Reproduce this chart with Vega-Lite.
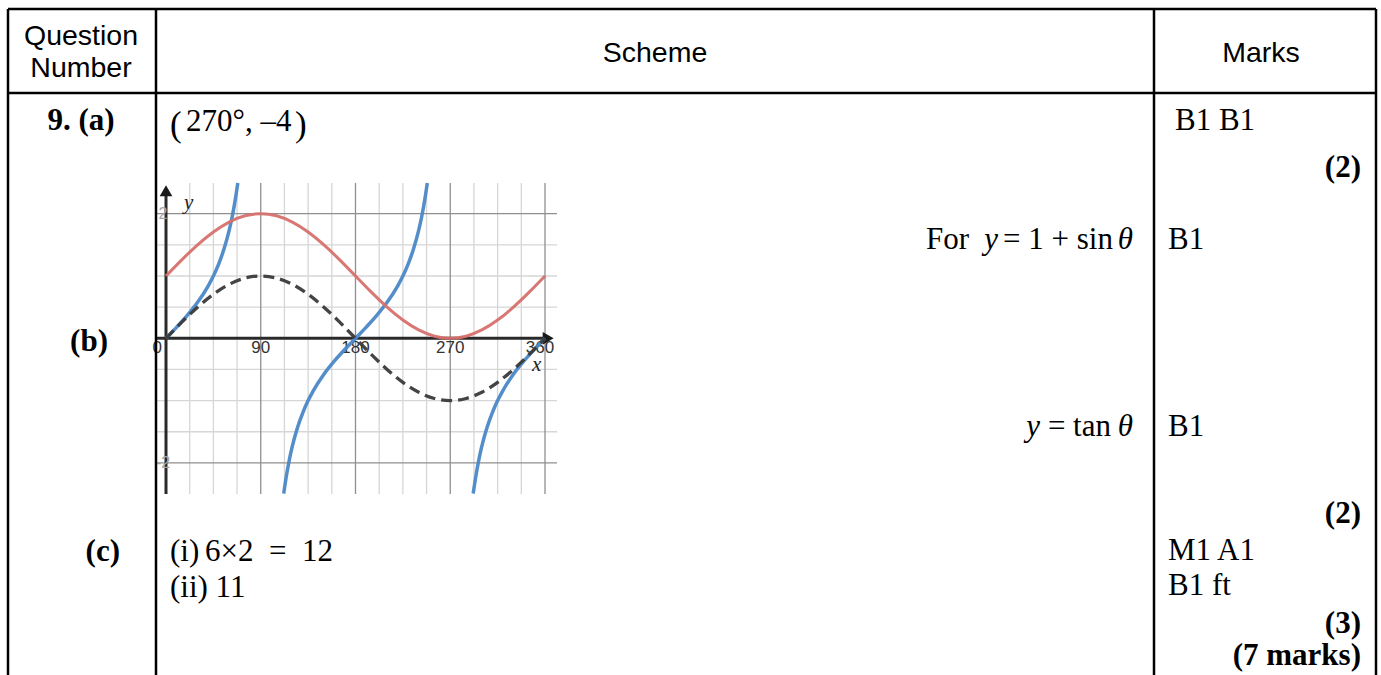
{
  "$schema": "https://vega.github.io/schema/vega-lite/v6.json",
  "width": 1381,
  "height": 675,
  "autosize": {"type": "none"},
  "padding": 0,
  "background": "white",
  "config": {"view": {"stroke": null}},
  "datasets": {
    "tlines": [
      {"x": 8, "x2": 1376, "y": 9, "y2": 9},
      {"x": 8, "x2": 1376, "y": 93, "y2": 93},
      {"x": 8, "x2": 8, "y": 9, "y2": 675},
      {"x": 156, "x2": 156, "y": 9, "y2": 675},
      {"x": 1154, "x2": 1154, "y": 9, "y2": 675},
      {"x": 1376, "x2": 1376, "y": 9, "y2": 675}
    ],
    "header": [
      {"t": "Question", "x": 81, "y": 45},
      {"t": "Number", "x": 81, "y": 77},
      {"t": "Scheme", "x": 655, "y": 62},
      {"t": "Marks", "x": 1261, "y": 62}
    ],
    "regLeft": [
      {"t": "270°, –4", "x": 186, "y": 131},
      {"t": "B1 B1", "x": 1175, "y": 130},
      {"t": "B1", "x": 1168, "y": 249},
      {"t": "B1", "x": 1168, "y": 436},
      {"t": "(i)", "x": 170, "y": 561},
      {"t": "6×2\u2002=\u200212", "x": 205, "y": 561},
      {"t": "(ii) 11", "x": 170, "y": 597},
      {"t": "M1 A1", "x": 1168, "y": 560},
      {"t": "B1 ft", "x": 1168, "y": 595}
    ],
    "parens": [
      {"t": "(", "x": 170, "y": 136},
      {"t": ")", "x": 295, "y": 136}
    ],
    "regRight": [
      {"t": "For", "x": 969, "y": 249},
      {"t": "= 1 + sin", "x": 1113, "y": 249},
      {"t": "= tan", "x": 1111, "y": 436}
    ],
    "itRight": [
      {"t": "y", "x": 998, "y": 249},
      {"t": "θ", "x": 1133, "y": 249},
      {"t": "y", "x": 1040, "y": 436},
      {"t": "θ", "x": 1133, "y": 436}
    ],
    "boldCenter": [
      {"t": "9. (a)", "x": 81, "y": 130}
    ],
    "boldRight": [
      {"t": "(b)", "x": 108, "y": 351},
      {"t": "(c)", "x": 120, "y": 561},
      {"t": "(2)", "x": 1361, "y": 177},
      {"t": "(2)", "x": 1361, "y": 523},
      {"t": "(3)", "x": 1361, "y": 633},
      {"t": "(7 marks)", "x": 1361, "y": 665}
    ],
    "vminor": [{"deg": 22.5}, {"deg": 45}, {"deg": 67.5}, {"deg": 112.5}, {"deg": 135}, {"deg": 157.5}, {"deg": 202.5}, {"deg": 225}, {"deg": 247.5}, {"deg": 292.5}, {"deg": 315}, {"deg": 337.5}],
    "vmajor": [{"deg": 90}, {"deg": 180}, {"deg": 270}, {"deg": 360}],
    "hminor": [{"v": -1.5}, {"v": -1}, {"v": -0.5}, {"v": 0.5}, {"v": 1}, {"v": 1.5}],
    "hmajor": [{"v": -2}, {"v": 2}],
    "xlabels": [{"label": "90", "deg": 90}, {"label": "180", "deg": 180}, {"label": "270", "deg": 270}],
    "ylabels": [{"label": "2", "v": 2}, {"label": "-2", "v": -2}],
    "onePlusSin": [
      {"deg": 0, "y": 1}, {"deg": 15, "y": 1.259}, {"deg": 30, "y": 1.5}, {"deg": 45, "y": 1.707}, {"deg": 60, "y": 1.866}, {"deg": 75, "y": 1.966}, {"deg": 90, "y": 2}, {"deg": 105, "y": 1.966}, {"deg": 120, "y": 1.866}, {"deg": 135, "y": 1.707}, {"deg": 150, "y": 1.5}, {"deg": 165, "y": 1.259}, {"deg": 180, "y": 1}, {"deg": 195, "y": 0.741}, {"deg": 210, "y": 0.5}, {"deg": 225, "y": 0.293}, {"deg": 240, "y": 0.134}, {"deg": 255, "y": 0.034}, {"deg": 270, "y": 0}, {"deg": 285, "y": 0.034}, {"deg": 300, "y": 0.134}, {"deg": 315, "y": 0.293}, {"deg": 330, "y": 0.5}, {"deg": 345, "y": 0.741}, {"deg": 360, "y": 1}
    ],
    "sin": [
      {"deg": 0, "y": 0}, {"deg": 15, "y": 0.259}, {"deg": 30, "y": 0.5}, {"deg": 45, "y": 0.707}, {"deg": 60, "y": 0.866}, {"deg": 75, "y": 0.966}, {"deg": 90, "y": 1}, {"deg": 105, "y": 0.966}, {"deg": 120, "y": 0.866}, {"deg": 135, "y": 0.707}, {"deg": 150, "y": 0.5}, {"deg": 165, "y": 0.259}, {"deg": 180, "y": 0}, {"deg": 195, "y": -0.259}, {"deg": 210, "y": -0.5}, {"deg": 225, "y": -0.707}, {"deg": 240, "y": -0.866}, {"deg": 255, "y": -0.966}, {"deg": 270, "y": -1}, {"deg": 285, "y": -0.966}, {"deg": 300, "y": -0.866}, {"deg": 315, "y": -0.707}, {"deg": 330, "y": -0.5}, {"deg": 345, "y": -0.259}, {"deg": 360, "y": 0}
    ],
    "tan": [
      {"b": 1, "deg": 0, "y": 0}, {"b": 1, "deg": 10, "y": 0.176}, {"b": 1, "deg": 20, "y": 0.364}, {"b": 1, "deg": 30, "y": 0.577}, {"b": 1, "deg": 40, "y": 0.839}, {"b": 1, "deg": 45, "y": 1}, {"b": 1, "deg": 50, "y": 1.192}, {"b": 1, "deg": 55, "y": 1.428}, {"b": 1, "deg": 60, "y": 1.732}, {"b": 1, "deg": 63, "y": 1.963}, {"b": 1, "deg": 66, "y": 2.246}, {"b": 1, "deg": 68.2, "y": 2.493},
      {"b": 2, "deg": 111.8, "y": -2.493}, {"b": 2, "deg": 114, "y": -2.246}, {"b": 2, "deg": 117, "y": -1.963}, {"b": 2, "deg": 120, "y": -1.732}, {"b": 2, "deg": 125, "y": -1.428}, {"b": 2, "deg": 130, "y": -1.192}, {"b": 2, "deg": 135, "y": -1}, {"b": 2, "deg": 140, "y": -0.839}, {"b": 2, "deg": 150, "y": -0.577}, {"b": 2, "deg": 160, "y": -0.364}, {"b": 2, "deg": 170, "y": -0.176}, {"b": 2, "deg": 180, "y": 0}, {"b": 2, "deg": 190, "y": 0.176}, {"b": 2, "deg": 200, "y": 0.364}, {"b": 2, "deg": 210, "y": 0.577}, {"b": 2, "deg": 220, "y": 0.839}, {"b": 2, "deg": 225, "y": 1}, {"b": 2, "deg": 230, "y": 1.192}, {"b": 2, "deg": 235, "y": 1.428}, {"b": 2, "deg": 240, "y": 1.732}, {"b": 2, "deg": 243, "y": 1.963}, {"b": 2, "deg": 246, "y": 2.246}, {"b": 2, "deg": 248.2, "y": 2.493},
      {"b": 3, "deg": 291.8, "y": -2.493}, {"b": 3, "deg": 294, "y": -2.246}, {"b": 3, "deg": 297, "y": -1.963}, {"b": 3, "deg": 300, "y": -1.732}, {"b": 3, "deg": 305, "y": -1.428}, {"b": 3, "deg": 310, "y": -1.192}, {"b": 3, "deg": 315, "y": -1}, {"b": 3, "deg": 320, "y": -0.839}, {"b": 3, "deg": 330, "y": -0.577}, {"b": 3, "deg": 340, "y": -0.364}, {"b": 3, "deg": 350, "y": -0.176}, {"b": 3, "deg": 360, "y": 0}
    ]
  },
  "resolve": {"scale": {"x": "independent", "y": "independent"}},
  "layer": [
    {
      "data": {"name": "vminor"},
      "mark": {"type": "rule", "stroke": "#d6d6d6", "strokeWidth": 1.3},
      "encoding": {
        "x": {"field": "deg", "type": "quantitative", "axis": null, "scale": {"domain": [-157.68, 1154.09], "nice": false, "zero": false}},
        "y": {"datum": -2.499, "type": "quantitative", "axis": null, "scale": {"domain": [-5.4045, 5.4302], "nice": false, "zero": false}},
        "y2": {"datum": 2.493}
      }
    },
    {
      "data": {"name": "hminor"},
      "mark": {"type": "rule", "stroke": "#d6d6d6", "strokeWidth": 1.3},
      "encoding": {
        "y": {"field": "v", "type": "quantitative", "axis": null, "scale": {"domain": [-5.4045, 5.4302], "nice": false, "zero": false}},
        "x": {"datum": -9, "type": "quantitative", "axis": null, "scale": {"domain": [-157.68, 1154.09], "nice": false, "zero": false}},
        "x2": {"datum": 371.4}
      }
    },
    {
      "data": {"name": "vmajor"},
      "mark": {"type": "rule", "stroke": "#8f8f8f", "strokeWidth": 1.3},
      "encoding": {
        "x": {"field": "deg", "type": "quantitative", "axis": null, "scale": {"domain": [-157.68, 1154.09], "nice": false, "zero": false}},
        "y": {"datum": -2.499, "type": "quantitative", "axis": null, "scale": {"domain": [-5.4045, 5.4302], "nice": false, "zero": false}},
        "y2": {"datum": 2.493}
      }
    },
    {
      "data": {"name": "hmajor"},
      "mark": {"type": "rule", "stroke": "#8f8f8f", "strokeWidth": 1.3},
      "encoding": {
        "y": {"field": "v", "type": "quantitative", "axis": null, "scale": {"domain": [-5.4045, 5.4302], "nice": false, "zero": false}},
        "x": {"datum": -9, "type": "quantitative", "axis": null, "scale": {"domain": [-157.68, 1154.09], "nice": false, "zero": false}},
        "x2": {"datum": 371.4}
      }
    },
    {
      "data": {"values": [{}]},
      "mark": {"type": "rule", "stroke": "#2a2a2a", "strokeWidth": 3},
      "encoding": {
        "y": {"datum": 0, "type": "quantitative", "axis": null, "scale": {"domain": [-5.4045, 5.4302], "nice": false, "zero": false}},
        "x": {"datum": -9, "type": "quantitative", "axis": null, "scale": {"domain": [-157.68, 1154.09], "nice": false, "zero": false}},
        "x2": {"datum": 360}
      }
    },
    {
      "data": {"values": [{}]},
      "mark": {"type": "rule", "stroke": "#2a2a2a", "strokeWidth": 3},
      "encoding": {
        "x": {"datum": 0, "type": "quantitative", "axis": null, "scale": {"domain": [-157.68, 1154.09], "nice": false, "zero": false}},
        "y": {"datum": -2.499, "type": "quantitative", "axis": null, "scale": {"domain": [-5.4045, 5.4302], "nice": false, "zero": false}},
        "y2": {"datum": 2.3}
      }
    },
    {
      "data": {"values": [{}]},
      "mark": {"type": "point", "shape": "triangle-up", "filled": true, "color": "#1a1a1a", "size": 160, "opacity": 1},
      "encoding": {
        "x": {"datum": 0, "type": "quantitative", "axis": null, "scale": {"domain": [-157.68, 1154.09], "nice": false, "zero": false}},
        "y": {"datum": 2.37, "type": "quantitative", "axis": null, "scale": {"domain": [-5.4045, 5.4302], "nice": false, "zero": false}}
      }
    },
    {
      "data": {"values": [{}]},
      "mark": {"type": "point", "shape": "triangle-right", "filled": true, "color": "#1a1a1a", "size": 160, "opacity": 1},
      "encoding": {
        "x": {"datum": 363, "type": "quantitative", "axis": null, "scale": {"domain": [-157.68, 1154.09], "nice": false, "zero": false}},
        "y": {"datum": 0, "type": "quantitative", "axis": null, "scale": {"domain": [-5.4045, 5.4302], "nice": false, "zero": false}}
      }
    },
    {
      "data": {"name": "xlabels"},
      "mark": {"type": "text", "font": "Liberation Sans", "fontSize": 17, "color": "#333333", "align": "center", "baseline": "middle"},
      "encoding": {
        "x": {"field": "deg", "type": "quantitative", "axis": null, "scale": {"domain": [-157.68, 1154.09], "nice": false, "zero": false}},
        "y": {"datum": -0.15, "type": "quantitative", "axis": null, "scale": {"domain": [-5.4045, 5.4302], "nice": false, "zero": false}},
        "text": {"field": "label"}
      }
    },
    {
      "data": {"values": [{"label": "360", "deg": 360}]},
      "mark": {"type": "text", "font": "Liberation Sans", "fontSize": 17, "color": "#333333", "align": "center", "baseline": "middle", "dx": -5},
      "encoding": {
        "x": {"field": "deg", "type": "quantitative", "axis": null, "scale": {"domain": [-157.68, 1154.09], "nice": false, "zero": false}},
        "y": {"datum": -0.15, "type": "quantitative", "axis": null, "scale": {"domain": [-5.4045, 5.4302], "nice": false, "zero": false}},
        "text": {"field": "label"}
      }
    },
    {
      "data": {"values": [{"label": "0", "deg": 0}]},
      "mark": {"type": "text", "font": "Liberation Sans", "fontSize": 17, "color": "#333333", "align": "right", "baseline": "middle", "dx": -4},
      "encoding": {
        "x": {"field": "deg", "type": "quantitative", "axis": null, "scale": {"domain": [-157.68, 1154.09], "nice": false, "zero": false}},
        "y": {"datum": -0.15, "type": "quantitative", "axis": null, "scale": {"domain": [-5.4045, 5.4302], "nice": false, "zero": false}},
        "text": {"field": "label"}
      }
    },
    {
      "data": {"name": "ylabels"},
      "mark": {"type": "text", "font": "Liberation Sans", "fontSize": 16, "color": "#a6a6a6", "align": "center", "baseline": "middle", "dx": -3},
      "encoding": {
        "y": {"field": "v", "type": "quantitative", "axis": null, "scale": {"domain": [-5.4045, 5.4302], "nice": false, "zero": false}},
        "x": {"datum": 0, "type": "quantitative", "axis": null, "scale": {"domain": [-157.68, 1154.09], "nice": false, "zero": false}},
        "text": {"field": "label"}
      }
    },
    {
      "data": {"values": [{"label": "y", "deg": 21.5, "v": 2.08}, {"label": "x", "deg": 352, "v": -0.53}]},
      "mark": {"type": "text", "font": "Liberation Serif", "fontStyle": "italic", "fontSize": 21, "color": "#222222", "align": "center", "baseline": "alphabetic"},
      "encoding": {
        "x": {"field": "deg", "type": "quantitative", "axis": null, "scale": {"domain": [-157.68, 1154.09], "nice": false, "zero": false}},
        "y": {"field": "v", "type": "quantitative", "axis": null, "scale": {"domain": [-5.4045, 5.4302], "nice": false, "zero": false}},
        "text": {"field": "label"}
      }
    },
    {
      "data": {"name": "tan"},
      "mark": {"type": "line", "interpolate": "monotone", "stroke": "#4a88c7", "strokeWidth": 3.5, "opacity": 0.95},
      "encoding": {
        "x": {"field": "deg", "type": "quantitative", "axis": null, "scale": {"domain": [-157.68, 1154.09], "nice": false, "zero": false}},
        "y": {"field": "y", "type": "quantitative", "axis": null, "scale": {"domain": [-5.4045, 5.4302], "nice": false, "zero": false}},
        "detail": {"field": "b", "type": "nominal"},
        "order": {"field": "deg", "type": "quantitative"}
      }
    },
    {
      "data": {"name": "onePlusSin"},
      "mark": {"type": "line", "interpolate": "natural", "stroke": "#d6706b", "strokeWidth": 3, "opacity": 0.95},
      "encoding": {
        "x": {"field": "deg", "type": "quantitative", "axis": null, "scale": {"domain": [-157.68, 1154.09], "nice": false, "zero": false}},
        "y": {"field": "y", "type": "quantitative", "axis": null, "scale": {"domain": [-5.4045, 5.4302], "nice": false, "zero": false}}
      }
    },
    {
      "data": {"name": "sin"},
      "mark": {"type": "line", "interpolate": "natural", "stroke": "#3a3a3a", "strokeWidth": 3.3, "strokeDash": [11, 6], "opacity": 0.95},
      "encoding": {
        "x": {"field": "deg", "type": "quantitative", "axis": null, "scale": {"domain": [-157.68, 1154.09], "nice": false, "zero": false}},
        "y": {"field": "y", "type": "quantitative", "axis": null, "scale": {"domain": [-5.4045, 5.4302], "nice": false, "zero": false}}
      }
    },
    {
      "data": {"name": "tlines"},
      "mark": {"type": "rule", "stroke": "#000000", "strokeWidth": 2.5},
      "encoding": {
        "x": {"field": "x", "type": "quantitative", "axis": null, "scale": {"domain": [0, 1381], "nice": false, "zero": false}},
        "x2": {"field": "x2"},
        "y": {"field": "y", "type": "quantitative", "axis": null, "scale": {"domain": [0, 675], "reverse": true, "nice": false, "zero": false}},
        "y2": {"field": "y2"}
      }
    },
    {
      "data": {"name": "header"},
      "mark": {"type": "text", "font": "Liberation Sans", "fontSize": 28.5, "color": "#000000", "align": "center", "baseline": "alphabetic"},
      "encoding": {
        "x": {"field": "x", "type": "quantitative", "axis": null, "scale": {"domain": [0, 1381], "nice": false, "zero": false}},
        "y": {"field": "y", "type": "quantitative", "axis": null, "scale": {"domain": [0, 675], "reverse": true, "nice": false, "zero": false}},
        "text": {"field": "t"}
      }
    },
    {
      "data": {"name": "regLeft"},
      "mark": {"type": "text", "font": "Liberation Serif", "fontSize": 31, "color": "#000000", "align": "left", "baseline": "alphabetic"},
      "encoding": {
        "x": {"field": "x", "type": "quantitative", "axis": null, "scale": {"domain": [0, 1381], "nice": false, "zero": false}},
        "y": {"field": "y", "type": "quantitative", "axis": null, "scale": {"domain": [0, 675], "reverse": true, "nice": false, "zero": false}},
        "text": {"field": "t"}
      }
    },
    {
      "data": {"name": "parens"},
      "mark": {"type": "text", "font": "Liberation Serif", "fontSize": 35, "color": "#000000", "align": "left", "baseline": "alphabetic"},
      "encoding": {
        "x": {"field": "x", "type": "quantitative", "axis": null, "scale": {"domain": [0, 1381], "nice": false, "zero": false}},
        "y": {"field": "y", "type": "quantitative", "axis": null, "scale": {"domain": [0, 675], "reverse": true, "nice": false, "zero": false}},
        "text": {"field": "t"}
      }
    },
    {
      "data": {"name": "regRight"},
      "mark": {"type": "text", "font": "Liberation Serif", "fontSize": 31, "color": "#000000", "align": "right", "baseline": "alphabetic"},
      "encoding": {
        "x": {"field": "x", "type": "quantitative", "axis": null, "scale": {"domain": [0, 1381], "nice": false, "zero": false}},
        "y": {"field": "y", "type": "quantitative", "axis": null, "scale": {"domain": [0, 675], "reverse": true, "nice": false, "zero": false}},
        "text": {"field": "t"}
      }
    },
    {
      "data": {"name": "itRight"},
      "mark": {"type": "text", "font": "Liberation Serif", "fontStyle": "italic", "fontSize": 31, "color": "#000000", "align": "right", "baseline": "alphabetic"},
      "encoding": {
        "x": {"field": "x", "type": "quantitative", "axis": null, "scale": {"domain": [0, 1381], "nice": false, "zero": false}},
        "y": {"field": "y", "type": "quantitative", "axis": null, "scale": {"domain": [0, 675], "reverse": true, "nice": false, "zero": false}},
        "text": {"field": "t"}
      }
    },
    {
      "data": {"name": "boldCenter"},
      "mark": {"type": "text", "font": "Liberation Serif", "fontWeight": "bold", "fontSize": 31, "color": "#000000", "align": "center", "baseline": "alphabetic"},
      "encoding": {
        "x": {"field": "x", "type": "quantitative", "axis": null, "scale": {"domain": [0, 1381], "nice": false, "zero": false}},
        "y": {"field": "y", "type": "quantitative", "axis": null, "scale": {"domain": [0, 675], "reverse": true, "nice": false, "zero": false}},
        "text": {"field": "t"}
      }
    },
    {
      "data": {"name": "boldRight"},
      "mark": {"type": "text", "font": "Liberation Serif", "fontWeight": "bold", "fontSize": 31, "color": "#000000", "align": "right", "baseline": "alphabetic"},
      "encoding": {
        "x": {"field": "x", "type": "quantitative", "axis": null, "scale": {"domain": [0, 1381], "nice": false, "zero": false}},
        "y": {"field": "y", "type": "quantitative", "axis": null, "scale": {"domain": [0, 675], "reverse": true, "nice": false, "zero": false}},
        "text": {"field": "t"}
      }
    }
  ]
}
